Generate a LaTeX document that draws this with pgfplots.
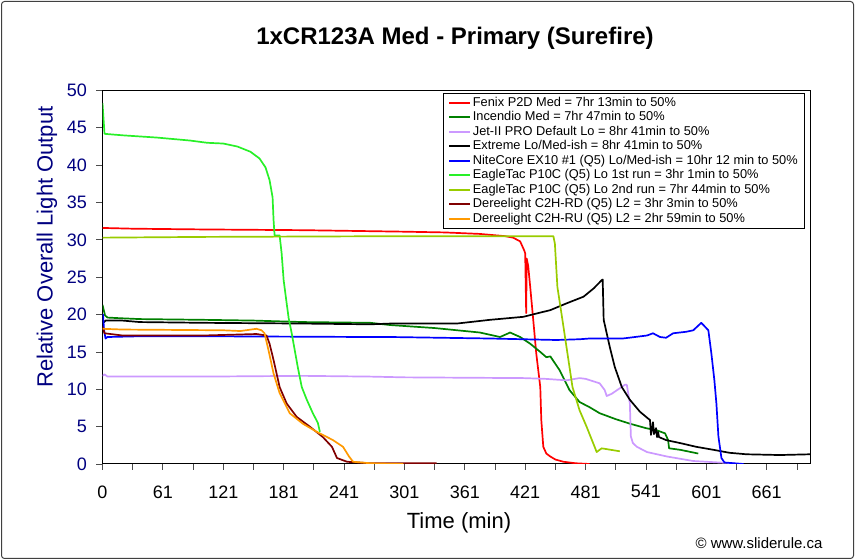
\documentclass[border=0pt]{standalone}
\usepackage{fontspec}
\setmainfont{Liberation Sans}
\usepackage{pgfplots}
\pgfplotsset{compat=1.18}
\definecolor{cRed}{RGB}{255,0,0}
\definecolor{cDGreen}{RGB}{0,128,0}
\definecolor{cLav}{RGB}{204,153,255}
\definecolor{cBlue}{RGB}{0,0,255}
\definecolor{cLime}{RGB}{40,240,40}
\definecolor{cYG}{RGB}{153,204,0}
\definecolor{cDRed}{RGB}{128,0,0}
\definecolor{cOrange}{RGB}{255,153,0}
\definecolor{cNavy}{RGB}{0,0,128}
\begin{document}
\begin{tikzpicture}[x=1pt,y=1pt]
\useasboundingbox (0,0) rectangle (855,560);
\draw[black!75, line width=1pt, rounded corners=3pt] (1.5,1.5) rectangle (853.5,558.5);
\node[font=\bfseries\fontsize{24}{28}\selectfont] at (455,522) {1xCR123A Med - Primary (Surefire)};
\begin{axis}[
  at={(102.5pt,96pt)}, anchor=south west, scale only axis,
  width=707.5pt, height=373.5pt,
  xmin=0, xmax=703, ymin=0, ymax=50,
  axis line style={black, line width=1pt},
  tick align=outside,
  major tick length=6pt, minor tick length=6pt,
  every tick/.style={black!70, line width=0.8pt},
  xtick={0,60,120,180,240,300,360,420,480,540,600,660},
  xticklabels={0,61,121,181,241,301,361,421,481,541,601,661},
  minor xtick={30,90,150,210,270,330,390,450,510,570,630,690},
  ytick={0,5,...,50},
  xtick pos=bottom, ytick pos=left,
  /pgf/number format/assume math mode=true,
  ticklabel style={font=\fontsize{18}{20}\selectfont},
  xticklabel style={yshift=-12pt},
  yticklabel style={text=cNavy, xshift=-6pt},
  every axis plot/.append style={line width=1.7pt, no markers, line join=round},
  legend image code/.code={\draw[#1] (0pt,0pt) -- (21pt,0pt);},
  legend cell align=left,
  legend style={at={(rel axis cs:0.481,0.993)}, anchor=north west, draw=black, line width=0.8pt,
    font=\fontsize{12.8}{14.6}\selectfont, row sep=0pt, inner xsep=5pt, inner ysep=2pt,
    nodes={inner ysep=1.2pt, inner xsep=2pt, text height=9.3pt, text depth=2.8pt}},
]
% Fenix P2D Med
\addplot[cRed] coordinates {(0,31.6) (30,31.5) (100,31.4) (200,31.3) (300,31.1) (340,31.0) (375,30.8) (400,30.5) (408,30.3) (415,29.8) (419,28.6) (420,28.2) (421,20.2) (421.5,27.5) (423,26.5) (425,23.7) (428,19.3) (431,14.8) (435,10.3) (436,5.9) (438,2.3) (441,1.4) (445,1.0) (450,0.6) (458,0.3) (470,0.1) (484,0.0)};
\addlegendentry{Fenix P2D Med = 7hr 13min to 50\%}
% Incendio Med
\addplot[cDGreen] coordinates {(0,21.3) (2.5,19.9) (5,19.6) (20,19.5) (37,19.4) (100,19.3) (150,19.2) (200,19.0) (266,18.9) (286,18.6) (330,18.2) (375,17.6) (395,17.0) (405,17.6) (415,17.0) (425,16.1) (435,15.0) (441,14.3) (445,14.4) (454,12.6) (464,9.9) (474,8.3) (484,7.6) (494,6.8) (510,6.0) (524,5.4) (540,4.8) (551,4.5) (559,4.1) (562,3.2) (563,2.1) (574,1.9) (592,1.4)};
\addlegendentry{Incendio Med = 7hr 47min to 50\%}
% Jet-II PRO
\addplot[cLav] coordinates {(0,11.8) (2,12.0) (5,11.7) (100,11.7) (200,11.8) (266,11.7) (300,11.6) (418,11.5) (440,11.4) (461,11.2) (474,11.5) (480,11.4) (494,10.8) (499,9.9) (501,9.1) (506,9.4) (519,10.6) (521,10.6) (524,8.1) (525,3.7) (527,2.8) (531,2.3) (541,1.6) (561,1.0) (587,0.4) (613,0.2) (628,0.1)};
\addlegendentry{Jet-II PRO Default Lo = 8hr 41min to 50\%}
% Extreme
\addplot[black] coordinates {(0,18.8) (3,19.2) (20,19.2) (37,19.0) (100,18.9) (200,18.8) (266,18.7) (286,18.8) (352,18.8) (385,19.3) (418,19.7) (445,20.6) (461,21.5) (478,22.4) (488,23.5) (496,24.6) (497,24.7) (498,19.3) (504,15.7) (509,13.0) (516,10.3) (524,8.6) (534,7.0) (542,6.1) (544,5.9) (545,3.9) (547,5.6) (548,4.0) (550,4.8) (551,3.6) (552,4.3) (553,3.6) (560,3.2) (574,2.8) (590,2.3) (607,1.9) (623,1.5) (640,1.3) (673,1.2) (703,1.3)};
\addlegendentry{Extreme Lo/Med-ish = 8hr 41min to 50\%}
% NiteCore
\addplot[cBlue] coordinates {(0,19.5) (0.5,20.0) (1.5,18.0) (3,16.8) (5,17.0) (37,17.1) (100,17.1) (266,17.0) (286,17.0) (385,16.8) (451,16.6) (474,16.7) (484,16.8) (508,16.8) (517,16.8) (541,17.2) (547,17.5) (554,17.0) (560,16.9) (567,17.5) (580,17.7) (587,17.9) (595,18.9) (602,17.9) (605,14.8) (608,11.2) (610,8.1) (612,3.7) (615,0.8) (618,0.2) (637,0.0)};
\addlegendentry{NiteCore EX10 \#1 (Q5) Lo/Med-ish = 10hr 12 min to 50\%}
% EagleTac 1st
\addplot[cLime] coordinates {(0,48.3) (2,44.2) (20,44.0) (54,43.7) (87,43.3) (104,43.0) (120,42.9) (134,42.5) (147,41.8) (156,40.9) (162,39.7) (166,38.0) (169,35.7) (170,32.6) (171,30.6) (176,30.6) (178,28.2) (180,24.6) (183,21.5) (185,19.5) (188,17.5) (194,13.0) (198,10.3) (203,8.6) (209,6.8) (214,5.5) (216,4.3)};
\addlegendentry{EagleTac P10C (Q5) Lo 1st run = 3hr 1min to 50\%}
% EagleTac 2nd
\addplot[cYG] coordinates {(0,30.3) (100,30.4) (300,30.5) (400,30.5) (448,30.5) (449.5,29.5) (452,23.7) (457,19.3) (462,14.8) (467,10.3) (474,7.2) (481,5.0) (489,2.3) (491,1.6) (493,1.8) (496,2.1) (514,1.7)};
\addlegendentry{EagleTac P10C (Q5) Lo 2nd run = 7hr 44min to 50\%}
% C2H-RD
\addplot[cDRed] coordinates {(0,18.4) (2,17.5) (20,17.2) (100,17.2) (153,17.4) (163,17.2) (166,16.1) (170,13.9) (176,10.3) (183,8.1) (193,6.3) (206,5.0) (219,3.6) (228,2.3) (233,0.8) (243,0.3) (266,0.1) (332,0.1)};
\addlegendentry{Dereelight C2H-RD (Q5) L2 = 3hr 3min to 50\%}
% C2H-RU
\addplot[cOrange] coordinates {(0,18.1) (20,18.0) (120,17.9) (137,17.8) (153,18.1) (158,17.9) (161,17.5) (165,15.2) (170,12.1) (176,9.5) (186,6.8) (199,5.4) (213,4.3) (229,3.2) (239,2.3) (245,1.0) (249,0.3) (266,0.1) (299,0.0)};
\addlegendentry{Dereelight C2H-RU (Q5) L2 = 2hr 59min to 50\%}
\end{axis}
\node[font=\fontsize{22}{26}\selectfont] at (459,37) {Time (min)};
\node[font=\fontsize{22}{26}\selectfont, text=cNavy, rotate=90] at (47,313) {Relative Overall Light Output};
\node[font=\fontsize{15}{18}\selectfont, anchor=east] at (826,17) {\char"00A9\ www.sliderule.ca};
\end{tikzpicture}
\end{document}
